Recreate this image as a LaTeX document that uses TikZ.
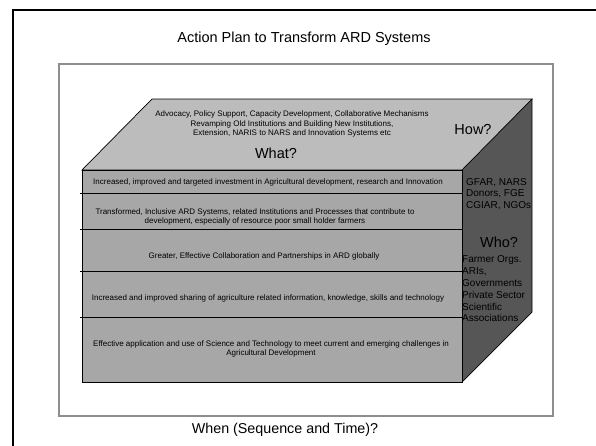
\documentclass[tikz,border=0pt]{standalone}
\usepackage{fontspec}
\setmainfont{Liberation Sans}
\usepackage{tikz}
\definecolor{topgrey}{HTML}{BCBCBC}
\definecolor{frontgrey}{HTML}{A7A7A7}
\definecolor{sidegrey}{HTML}{565656}
\definecolor{boxgrey}{HTML}{8E8E8E}
\tikzset{
  face/.style={draw=black, line width=0.7pt, line join=miter},
  rowtxt/.style={font=\fontsize{8}{9.8}\selectfont, align=center, inner sep=0pt},
  bigq/.style={font=\fontsize{14.5}{16}\selectfont, inner sep=0pt},
  sidetxt/.style={font=\fontsize{10}{11.8}\selectfont, align=left, inner sep=0pt}
}

\begin{document}
\begin{tikzpicture}[x=1pt, y=-1pt]
    \useasboundingbox (0,0) rectangle (596,445);
    % frame and inner box
    \draw[line width=2.2pt] (13,10) rectangle (620,470);
    \draw[boxgrey, line width=1.1pt] (59,64) rectangle (553,416);

    % the block
    \coordinate (fl) at (82,170);
    \coordinate (fr) at (462,170);
    \coordinate (bl) at (82,382);
    \coordinate (br) at (462,382);
    \coordinate (tl) at (152,99);
    \coordinate (tr) at (532,99);
    \coordinate (sr) at (532,312);
    \fill[topgrey] (fl) -- (tl) -- (tr) -- (fr) -- cycle;
    \fill[frontgrey] (fl) rectangle (br);
    \fill[sidegrey] (fr) -- (tr) -- (sr) -- (br) -- cycle;
    \foreach \yy in {193,229,271,317}
      \draw[line width=0.6pt] (80,\yy) -- (462,\yy);
    \draw[face] (fl) -- (tl) -- (tr) -- (fr) -- cycle;
    \draw[face] (fl) rectangle (br);
    \draw[face] (tr) -- (sr) -- (br);

    \node (title) at (304,39) {\fontsize{14.5}{16}\selectfont Action Plan to Transform ARD Systems};
    \node (when) at (285,430) {\fontsize{14.3}{16}\selectfont When (Sequence and Time)?};

    % top face
    \node[rowtxt] (how) at (292,124) {Advocacy, Policy Support, Capacity Development, Collaborative Mechanisms\\
      Revamping Old Institutions and Building New Institutions,\\
      Extension, NARIS to NARS and Innovation Systems etc};
    \node[bigq] (what) at (276,153) {What?};
    \node[bigq] (howq) at (473,130) {How?};

    % front face rows
    \node[rowtxt] (r1) at (268,182) {Increased, improved and targeted investment in Agricultural development, research and Innovation};
    \node[rowtxt] (r2) at (255,217) {Transformed, Inclusive ARD Systems, related Institutions and Processes that contribute to\\
      development, especially of resource poor small holder farmers};
    \node[rowtxt] (r3) at (264,256) {Greater, Effective Collaboration and Partnerships in ARD globally};
    \node[rowtxt] (r4) at (268,298) {Increased and improved sharing of agriculture related information, knowledge, skills and technology};
    \node[rowtxt] (r5) at (271,349) {Effective application and use of Science and Technology to meet current and emerging challenges in\\
      Agricultural Development};

    % side face
    \node[sidetxt, anchor=west] (who1) at (466,194) {GFAR, NARS\\Donors, FGE\\CGIAR, NGOs};
    \node[bigq] (whoq) at (499,242) {Who?};
    \node[sidetxt, anchor=west] (who2) at (462,289) {Farmer Orgs.\\ARIs,\\Governments\\Private Sector\\Scientific\\Associations};
\end{tikzpicture}
\end{document}
